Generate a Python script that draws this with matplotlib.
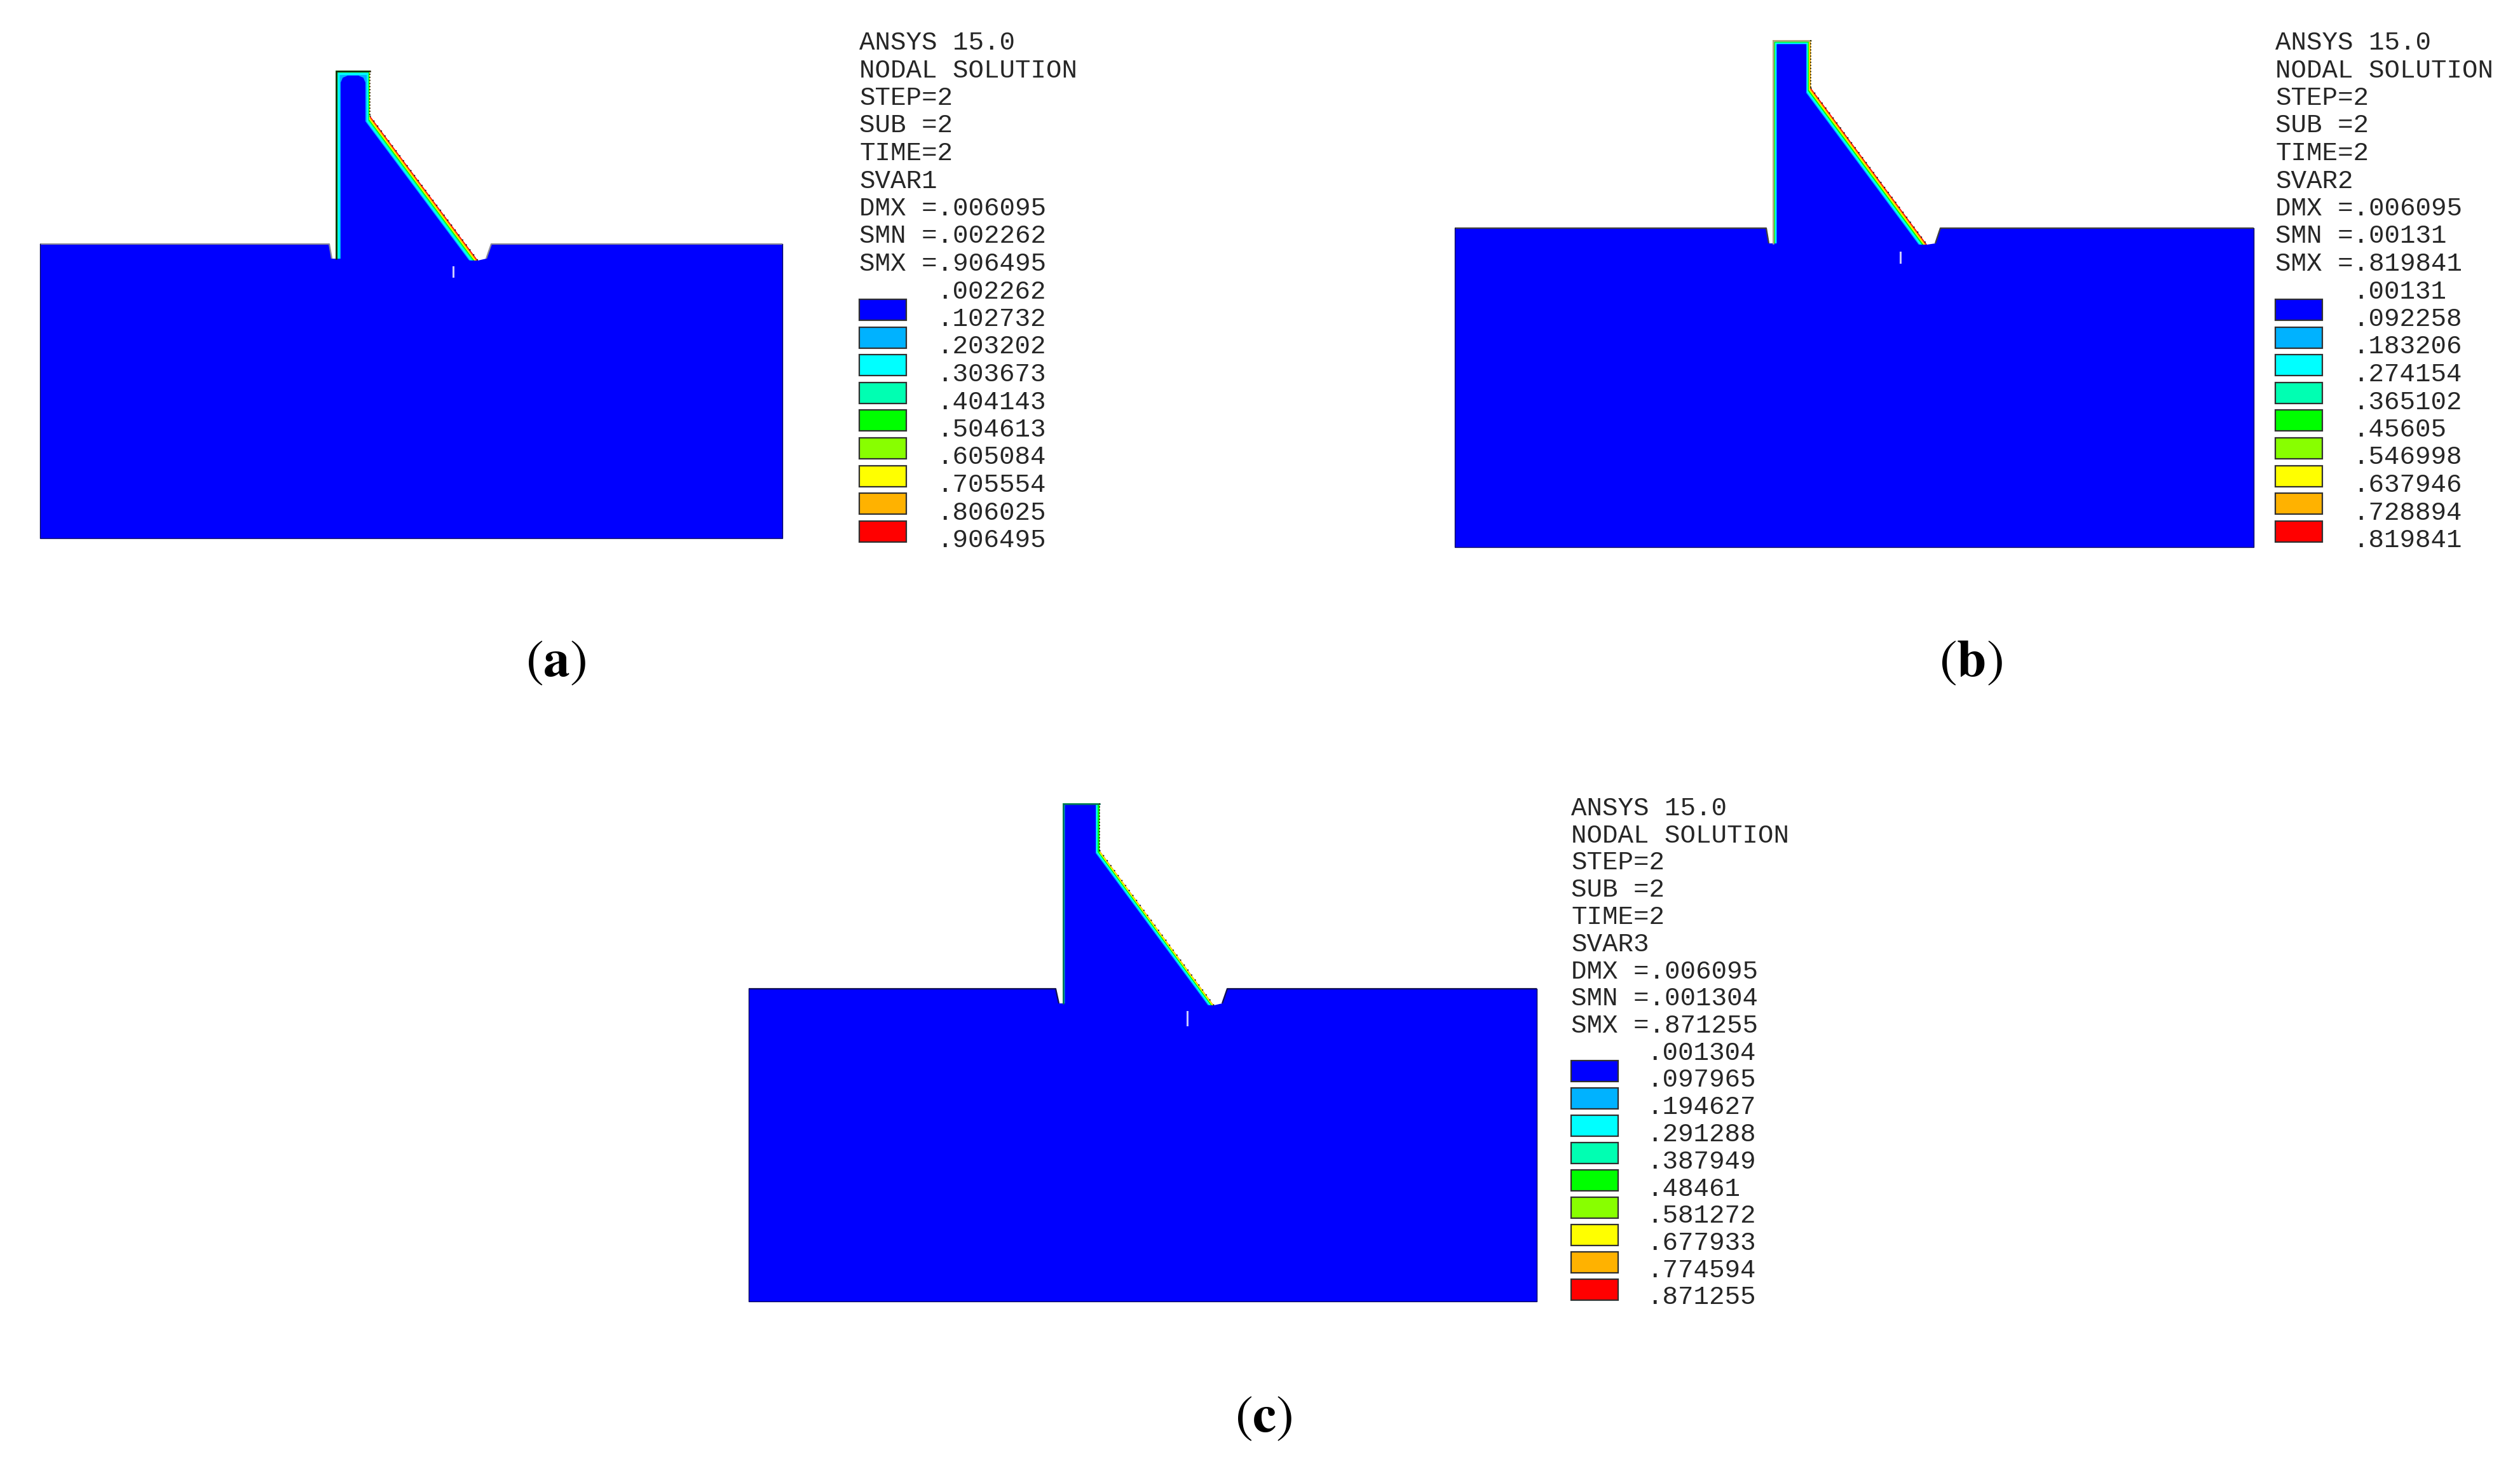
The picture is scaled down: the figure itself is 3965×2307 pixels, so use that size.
import numpy as np
import matplotlib
matplotlib.use('Agg')
import matplotlib.pyplot as plt
from matplotlib.patches import Polygon, Rectangle

# legend text of the three ANSYS plots
header_a = ['ANSYS 15.0', 'NODAL SOLUTION', 'STEP=2', 'SUB =2', 'TIME=2', 'SVAR1',
            'DMX =.006095', 'SMN =.002262', 'SMX =.906495']
header_b = ['ANSYS 15.0', 'NODAL SOLUTION', 'STEP=2', 'SUB =2', 'TIME=2', 'SVAR2',
            'DMX =.006095', 'SMN =.00131', 'SMX =.819841']
header_c = ['ANSYS 15.0', 'NODAL SOLUTION', 'STEP=2', 'SUB =2', 'TIME=2', 'SVAR3',
            'DMX =.006095', 'SMN =.001304', 'SMX =.871255']
levels_a = ['.002262', '.102732', '.203202', '.303673', '.404143',
            '.504613', '.605084', '.705554', '.806025', '.906495']
levels_b = ['.00131', '.092258', '.183206', '.274154', '.365102',
            '.45605', '.546998', '.637946', '.728894', '.819841']
levels_c = ['.001304', '.097965', '.194627', '.291288', '.387949',
            '.48461', '.581272', '.677933', '.774594', '.871255']
captions = ['a', 'b', 'c']
contour_colors = ['#0000ff', '#00b2ff', '#00ffff', '#00ffb2', '#00ff00',
                  '#88ff00', '#ffff00', '#ffb200', '#ff0000']

# dam geometry (image pixels):
# ground x0, x1, top, bottom
ground_a = [63, 1231, 384, 847]
ground_b = [2289, 3546, 359, 861]
ground_c = [1178, 2418, 1556, 2048]
# wall left, crest right, crest y, kink y, toe x, toe y
dam_a = [528, 582, 111, 182, 752, 410]
dam_b = [2789, 2849, 63, 138, 3032, 385]
dam_c = [1672, 1730, 1264, 1338, 1910, 1582]
# notch: left start x, left bottom x, bottom y, right bottom x, right end x
notch_a = [518, 522, 407, 765, 773]
notch_b = [2779, 2783, 383, 3045, 3053]
notch_c = [1661, 1666, 1579, 1923, 1931]
# small pale mark under the slope: x, y0, y1
mark_a = [713, 420, 435]
mark_b = [2990, 397, 413]
mark_c = [1868, 1592, 1613]

# contour bands, outside to inside: colour, inset from left wall, crest, right wall, slope
bands_a = [('#ff0000', 0, 0, 0, 0), ('#ffb200', 0, 0, 0, 1.5), ('#ffff00', 0, 0, 0, 3),
           ('#00ff00', 0, 0, 1, 4.5), ('#00ffb2', 3, 3, 2, 6), ('#00ffff', 4, 4, 3, 7.5),
           ('#00b2ff', 6.5, 7, 5, 9.5), ('#0000ff', 8, 8, 7, 11)]
bands_b = [('#ff0000', 0, 0, 0, 0), ('#ffb200', 0, 0, 0, 1.5), ('#ffff00', 1, 1, 2, 3),
           ('#00ff00', 1.5, 1.5, 3, 4.5), ('#00ffff', 4, 4, 4.5, 6.5),
           ('#00b2ff', 6, 6, 6, 9), ('#0000ff', 6.5, 6.5, 7, 10.5)]
bands_c = [('#ffb200', 0, 0, 0, 0), ('#ffff00', 0, 0, 0, 1), ('#00ff00', 0, 0, 0, 2.5),
           ('#00ffff', 1.5, 1.5, 3, 4), ('#00b2ff', 3, 2, 5, 6), ('#0000ff', 3.5, 2.5, 6, 7.5)]
# rounding of the blue core at the crest
chamfer_a = 11
chamfer_b = 1
chamfer_c = 0
edge_a = '#1c1c00'
edge_b = '#a8a890'
edge_c = '#006a60'
top_a = '#8a8a9a'
top_b = '#404040'
top_c = '#101050'

TEXT = '#262626'
plt.rcParams['font.family'] = ['Liberation Mono', 'DejaVu Sans']

fig = plt.figure(figsize=(39.65, 23.07), dpi=100)
ax = fig.add_axes([0, 0, 1, 1])
ax.set_xlim(0, 3965)
ax.set_ylim(2307, 0)
ax.axis('off')


def band_polygon(dam, band, chamfer=0):
    left, right, crest, kink, toe_x, toe_y = dam
    _, l_in, t_in, r_in, s_in = band
    slope = (toe_y - kink) / (toe_x - right)
    shift = s_in * np.sqrt(1 + slope ** 2)
    x_r = right - r_in
    y_r = kink - r_in * slope + shift
    x_l = left + l_in
    y_t = crest + t_in
    pts = [(x_l, toe_y + shift), (x_l, y_t + chamfer)]
    if chamfer:
        pts += [(x_l + 0.3 * chamfer, y_t + 0.3 * chamfer), (x_l + chamfer, y_t),
                (x_r - chamfer, y_t), (x_r - 0.3 * chamfer, y_t + 0.3 * chamfer),
                (x_r, y_t + chamfer)]
    else:
        pts += [(x_l, y_t), (x_r, y_t)]
    pts += [(x_r, y_r), (toe_x, toe_y + shift)]
    return pts


def draw_dam(ground, dam, notch, mark, bands, chamfer, edge, top):
    x0, x1, y_top, y_bot = ground
    left, right, crest, kink, toe_x, toe_y = dam
    n0, n1, n_y, n2, n3 = notch

    for i, band in enumerate(bands):
        cut = chamfer if i == len(bands) - 1 else 0
        ax.add_patch(Polygon(band_polygon(dam, band, cut), closed=True,
                             facecolor=band[0], edgecolor='none', zorder=2))

    # ground goes on top so the bands stop at the toe
    outline = [(x0, y_top), (n0, y_top), (n1, n_y), (left, n_y), (toe_x, toe_y),
               (n2, n_y), (n3, y_top), (x1, y_top), (x1, y_bot), (x0, y_bot)]
    ax.add_patch(Polygon(outline, closed=True, facecolor='#0000ff',
                         edgecolor='none', zorder=3))
    ax.plot([x0, n0, n1], [y_top, y_top, n_y], color=top, lw=1.6, zorder=4,
            solid_capstyle='butt')
    ax.plot([n2, n3, x1], [n_y, y_top, y_top], color=top, lw=1.6, zorder=4,
            solid_capstyle='butt')
    ax.plot([x0, x0, x1, x1], [y_top, y_bot, y_bot, y_top], color='#000060', lw=1.0, zorder=4)

    # dark speckled element edges on the outside of the dam
    ax.plot([left + 1, left + 1, right], [n_y, crest + 1, crest + 1], color=edge, lw=1.8,
            zorder=5, solid_joinstyle='miter')
    ax.plot([right, right], [crest, kink], color='#303000', lw=1.4,
            linestyle=(0, (1, 1.5)), zorder=5)
    ax.plot([right, toe_x], [kink, toe_y], color='#202020', lw=1.4,
            linestyle=(0, (1, 4)), zorder=5)

    ax.plot([mark[0], mark[0]], [mark[1], mark[2]], color='#c8c8ff', lw=2.2, zorder=6)


def draw_legend(x, y0, pitch, header, levels, swatch_top, swatch_pitch, value_dx):
    # 40.8 px em gives the 24.5 px monospace advance of the original
    for i, line in enumerate(header):
        ax.text(x, y0 + i * pitch, line, fontsize=29.4, color=TEXT, ha='left', va='baseline')
    for i, value in enumerate(levels):
        ax.text(x + value_dx, y0 + (i + len(header)) * pitch, value, fontsize=29.4, color=TEXT,
                ha='left', va='baseline')
    for i, color in enumerate(contour_colors):
        ax.add_patch(Rectangle((x, swatch_top + i * swatch_pitch), 74, 33, facecolor=color,
                               edgecolor='#303030', lw=1.6, zorder=3))


draw_dam(ground_a, dam_a, notch_a, mark_a, bands_a, chamfer_a, edge_a, top_a)
draw_dam(ground_b, dam_b, notch_b, mark_b, bands_b, chamfer_b, edge_b, top_b)
draw_dam(ground_c, dam_c, notch_c, mark_c, bands_c, chamfer_c, edge_c, top_c)

draw_legend(1352, 78, 43.5, header_a, levels_a, 471, 43.6, 122)
draw_legend(3580, 78, 43.5, header_b, levels_b, 471, 43.6, 122)
draw_legend(2472, 1283, 42.75, header_c, levels_c, 1669, 43.0, 119)

# captions with a bold letter
caption_x = [875, 3101, 1988]
caption_y = [1042, 1042, 2231]
for label, cx, cy in zip(captions, caption_x, caption_y):
    ax.text(cx, cy, rf'$\mathrm{{(}}\mathbf{{{label}}}\mathrm{{)}}$',
            fontsize=60, color='black', ha='center', va='center', math_fontfamily='stix')

plt.savefig('out.png', dpi=100)
